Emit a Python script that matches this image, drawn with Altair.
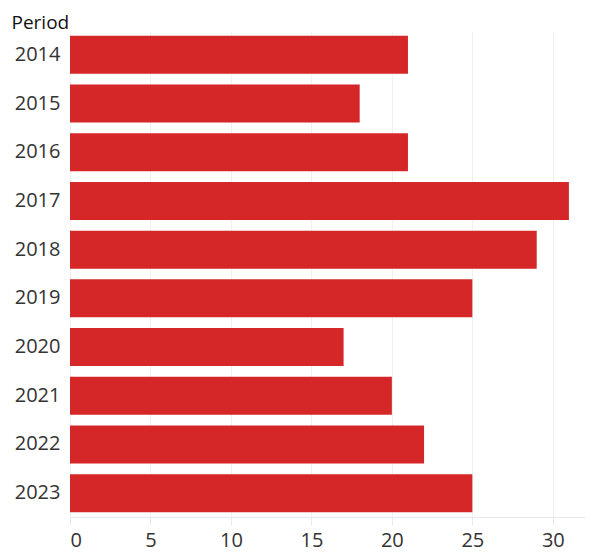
import altair as alt
import pandas as pd

periods = ["2014", "2015", "2016", "2017", "2018", "2019", "2020", "2021", "2022", "2023"]
values = [21, 18, 21, 31, 29, 25, 17, 20, 22, 25]

df = pd.DataFrame({"Period": periods, "Value": values})

FONT = "Open Sans"

chart = alt.Chart(df).mark_bar(color="#D62728").encode(
    y=alt.Y("Period:N", sort=periods,
            scale=alt.Scale(paddingInner=0.22, paddingOuter=0.1),
            axis=alt.Axis(title="Period", titleAngle=0, titleAlign="left",
                          titleBaseline="top",
                          titleX=-59, titleY=-18, titleFont=FONT, titleFontSize=19,
                          titleFontWeight="normal", titleColor="#111",
                          labelFont=FONT, labelFontSize=20, labelColor="#333",
                          labelPadding=10, ticks=False, domain=False, grid=False)),
    x=alt.X("Value:Q", scale=alt.Scale(domain=[0, 32], nice=False),
            axis=alt.Axis(title=None, values=[0, 5, 10, 15, 20, 25, 30],
                          labelFont=FONT, labelFontSize=20, labelColor="#333",
                          labelPadding=5, tickColor="#e8e8e8", tickSize=8,
                          domainColor="#e8e8e8", gridColor="#f0f0f0", grid=True)),
).properties(
    width=515, height=486,
    autosize=alt.AutoSizeParams(type="none"),
    padding={"left": 62, "top": 23, "right": 0, "bottom": 34},
).configure_view(stroke=None)

chart.save("out.html", embed_options={"renderer": "svg", "actions": False})
